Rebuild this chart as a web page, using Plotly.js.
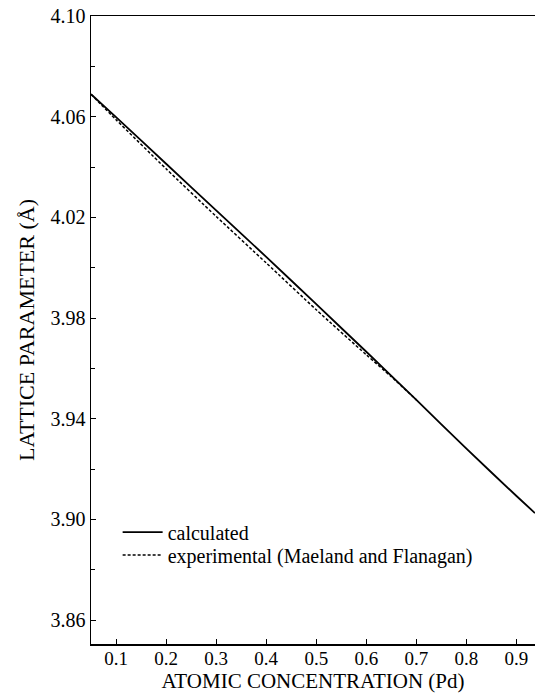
<!DOCTYPE html>
<html>
<head>
<meta charset="utf-8">
<script src="https://cdn.plot.ly/plotly-3.0.1.min.js"></script>
<style>html,body{margin:0;padding:0;background:#fff}#chart{width:535px;height:696px}</style>
</head>
<body>
<div id="chart"></div>
<script>
// Pd atomic concentration
const calcX = [0.05, 0.1, 0.2, 0.3, 0.4, 0.5, 0.6, 0.7, 0.8, 0.9, 0.937];
// calculated lattice parameter (Å)
const calcY = [4.0689, 4.0598, 4.0413, 4.0228, 4.0043, 3.9855, 3.9666, 3.9475, 3.9281, 3.9093, 3.9025];
// experimental (Maeland and Flanagan)
const expX = [0.05, 0.1, 0.2, 0.3, 0.4, 0.5, 0.6, 0.65, 0.7];
const expY = [4.0689, 4.0588, 4.0393, 4.0204, 4.0019, 3.9833, 3.9654, 3.9567, 3.9475];
const xTickVals = [0.1, 0.2, 0.3, 0.4, 0.5, 0.6, 0.7, 0.8, 0.9];
const xTickText = ["0.1", "0.2", "0.3", "0.4", "0.5", "0.6", "0.7", "0.8", "0.9"];
const yTickVals = [3.86, 3.90, 3.94, 3.98, 4.02, 4.06, 4.10];
const yTickText = ["3.86", "3.90", "3.94", "3.98", "4.02", "4.06", "4.10"];

const F = "Liberation Serif, Times New Roman, serif";
const traces = [
  {x: calcX, y: calcY, mode: "lines", name: "calculated", legend: "legend",
   line: {color: "#000", width: 1.8, shape: "spline", smoothing: 0.6}},
  {x: expX, y: expY, mode: "lines", name: "experimental (Maeland and Flanagan)", legend: "legend2",
   line: {color: "#000", width: 1.5, dash: "3px,2px", shape: "spline", smoothing: 0.6}}
];
const legBase = {
  x: 0.06, xanchor: "left", yanchor: "middle", bgcolor: "rgba(0,0,0,0)",
  font: {family: F, size: 20, color: "#000"}, itemwidth: 40, tracegroupgap: 0
};
const layout = {
  width: 535, height: 696,
  margin: {l: 91, r: 0, t: 16, b: 52},
  paper_bgcolor: "#fff", plot_bgcolor: "#fff",
  showlegend: true,
  legend: Object.assign({}, legBase, {y: 0.1783}),
  legend2: Object.assign({}, legBase, {y: 0.1417}),
  xaxis: {
    range: [0.05, 0.937], showgrid: false, zeroline: false,
    showline: true, linecolor: "#000", linewidth: 1.5, mirror: true,
    ticks: "inside", ticklen: 5, tickcolor: "#000", tickwidth: 1,
    tickmode: "array", tickvals: xTickVals, ticktext: xTickText,
    tickfont: {family: F, size: 19, color: "#000"}, ticklabelstandoff: -3,
    title: {text: "ATOMIC CONCENTRATION (Pd)", font: {family: F, size: 21, color: "#000"}, standoff: 0}
  },
  yaxis: {
    range: [3.8505, 4.10], showgrid: false, zeroline: false,
    showline: true, linecolor: "#000", linewidth: 1.5,
    ticks: "inside", ticklen: 5, tickcolor: "#000", tickwidth: 1,
    tickmode: "array", tickvals: yTickVals, ticktext: yTickText,
    minor: {tickmode: "linear", tick0: 3.86, dtick: 0.02, ticks: "inside", ticklen: 4, tickcolor: "#000", showgrid: false},
    tickfont: {family: F, size: 20, color: "#000"},
    title: {text: "LATTICE PARAMETER (Å)", font: {family: F, size: 22, color: "#000"}, standoff: 10}
  }
};
Plotly.newPlot("chart", traces, layout, {displayModeBar: false, staticPlot: true});
</script>
</body>
</html>
